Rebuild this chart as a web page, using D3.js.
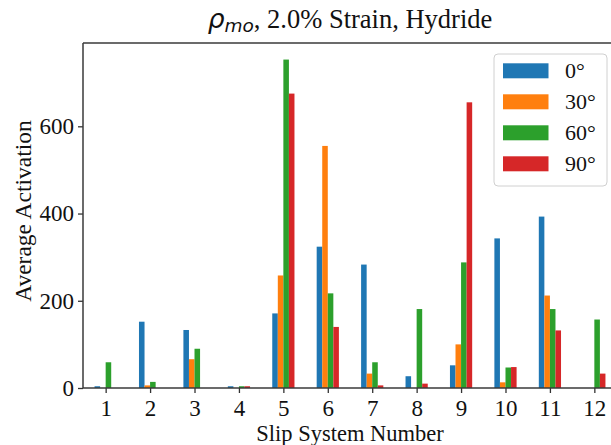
<!DOCTYPE html>
<html>
<head>
<meta charset="utf-8">
<script src="https://cdn.jsdelivr.net/npm/d3@7"></script>
<style>
html,body{margin:0;padding:0;background:#fff;}
svg{display:block;}
</style>
</head>
<body>
<svg id="chart" width="611" height="445"></svg>
<script>
const categories = ["1","2","3","4","5","6","7","8","9","10","11","12"];
const seriesNames = ["0°","30°","60°","90°"];
const s0 = [4, 152, 133, 4, 171, 324, 283, 27, 52, 343, 393, 0];
const s30 = [0, 6, 66, 0, 258, 555, 33, 0, 100, 13, 212, 0];
const s60 = [59, 14, 90, 4, 753, 217, 59, 181, 288, 47, 181, 157];
const s90 = [0, 0, 0, 4, 675, 140, 6, 10, 655, 48, 132, 33];
const yTicks = [0, 200, 400, 600];
const colors = ["#1f77b4", "#ff7f0e", "#2ca02c", "#d62728"];
const series = [s0, s30, s60, s90];

(function () {
const svg = d3.select("#chart");
const pL = 83, pR = 617, pT = 43, pB = 388;
const x = d3.scaleLinear().domain([0.49, 12.51]).range([pL, pR]);
const y = d3.scaleLinear().domain([0, 791]).range([pB, pT]);
const barW = 0.125;
const serif = "'Liberation Serif', 'Times New Roman', serif";

// bars
series.forEach((vals, si) => {
  svg.append("g").selectAll("rect").data(vals).join("rect")
    .attr("x", (d, i) => x(i + 1 + (si - 1.5) * barW - barW / 2))
    .attr("width", (d, i) => x(i + 1 + barW / 2) - x(i + 1 - barW / 2))
    .attr("y", d => y(d))
    .attr("height", d => y(0) - y(d))
    .attr("fill", colors[si]);
});

// axes
const xAxis = d3.axisBottom(x).tickValues(categories.map(Number)).tickFormat(d => String(d)).tickSize(5).tickPadding(4);
const gx = svg.append("g").attr("transform", `translate(0,${pB})`).call(xAxis);
const yAxis = d3.axisLeft(y).tickValues(yTicks).tickSize(5).tickPadding(4);
const gy = svg.append("g").attr("transform", `translate(${pL},0)`).call(yAxis);
[gx, gy].forEach(g => {
  g.select(".domain").remove();
  g.selectAll(".tick line").attr("stroke", "#333").attr("stroke-width", 1.3);
  g.selectAll(".tick text").attr("fill", "#111").style("font-family", serif).style("font-size", "23px");
});
gx.selectAll(".tick text").attr("dy", "0.82em");

// spines
const spine = svg.append("g").attr("stroke", "#3a3a3a").attr("stroke-width", 1.5).attr("fill", "none");
spine.append("line").attr("x1", pL).attr("x2", pR).attr("y1", pT).attr("y2", pT);
spine.append("line").attr("x1", pL).attr("x2", pR).attr("y1", pB).attr("y2", pB);
spine.append("line").attr("x1", pL).attr("x2", pL).attr("y1", pT).attr("y2", pB);
spine.append("line").attr("x1", pR).attr("x2", pR).attr("y1", pT).attr("y2", pB);

// title
const title = svg.append("text").attr("x", 350).attr("y", 28).attr("text-anchor", "middle")
  .style("font-family", serif).style("font-size", "26.5px").attr("fill", "#111");
title.append("tspan").text("ρ").style("font-family", "'DejaVu Sans', sans-serif").style("font-style", "italic");
title.append("tspan").text("mo").attr("dy", 4).style("font-family", "'DejaVu Sans', sans-serif").style("font-style", "italic").style("font-size", "18.5px");
title.append("tspan").text(", 2.0% Strain, Hydride").attr("dy", -4);

// axis labels
svg.append("text").attr("x", 350).attr("y", 441).attr("text-anchor", "middle")
  .style("font-family", serif).style("font-size", "22.5px").attr("fill", "#111").text("Slip System Number");
svg.append("text").attr("transform", "translate(31,211) rotate(-90)").attr("text-anchor", "middle")
  .style("font-family", serif).style("font-size", "23.5px").attr("fill", "#111").text("Average Activation");

// legend
const lg = svg.append("g");
lg.append("rect").attr("x", 494).attr("y", 54).attr("width", 113).attr("height", 132).attr("rx", 4)
  .attr("fill", "#fff").attr("fill-opacity", 0.85).attr("stroke", "#d0d0d0").attr("stroke-width", 1);
seriesNames.forEach((name, i) => {
  lg.append("rect").attr("x", 503).attr("y", 63.3 + i * 31).attr("width", 45.5).attr("height", 15).attr("fill", colors[i]);
  lg.append("text").attr("x", 565).attr("y", 78.3 + i * 31).style("font-family", serif).style("font-size", "22px")
    .attr("fill", "#111").text(name);
});
})();
</script>
</body>
</html>
